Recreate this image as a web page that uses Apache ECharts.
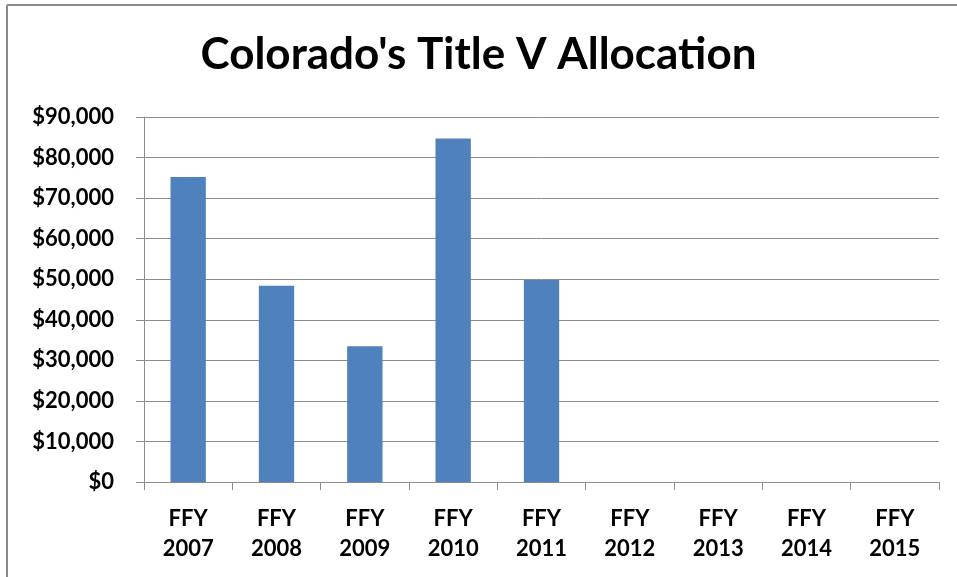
<!DOCTYPE html>
<html>
<head>
<meta charset="utf-8">
<title>Colorado's Title V Allocation</title>
<script src="https://cdn.jsdelivr.net/npm/echarts@6/dist/echarts.min.js"></script>
<style>
    html, body { margin: 0; padding: 0; background: #fff; }
    #chartsdiv { width: 957px; height: 577px; }
</style>
</head>
<body>
<div id="chartsdiv"></div>
<script>
// 数据
var years = ['FFY\n2007', 'FFY\n2008', 'FFY\n2009', 'FFY\n2010', 'FFY\n2011',
             'FFY\n2012', 'FFY\n2013', 'FFY\n2014', 'FFY\n2015'];
var allocation = [75200, 48400, 33500, 84700, 49800, null, null, null, null];
var yTicks = [0, 10000, 20000, 30000, 40000, 50000, 60000, 70000, 80000, 90000];

var fontName = 'Lato, "Open Sans", sans-serif';

function money(v) {
    return '$' + v.toString().replace(/\B(?=(\d{3})+(?!\d))/g, ',');
}

var myChart = echarts.init(document.getElementById('chartsdiv'));
var option = {
    backgroundColor: '#fff',
    animation: false,
    title: {
        text: "Colorado's Title V Allocation",
        left: 'center',
        top: 28,
        textStyle: {
            fontFamily: fontName,
            fontSize: 44,
            fontWeight: 'bold',
            color: '#000'
        }
    },
    graphic: [
        { type: 'line', shape: { x1: 7, y1: 5, x2: 957, y2: 5 }, style: { stroke: '#8a8a8a', lineWidth: 2 } },
        { type: 'line', shape: { x1: 7, y1: 5, x2: 7, y2: 577 }, style: { stroke: '#8a8a8a', lineWidth: 2 } }
    ],
    grid: {
        left: 144,
        right: 18,
        top: 117,
        bottom: 95
    },
    xAxis: {
        type: 'category',
        data: years,
        axisLine: { lineStyle: { color: '#8c8c8c', width: 1 } },
        axisTick: { show: true, length: 8, alignWithLabel: false, lineStyle: { color: '#8c8c8c' } },
        axisLabel: {
            margin: 22,
            interval: 0,
            fontFamily: fontName,
            fontSize: 22,
            fontWeight: 'bold',
            color: '#000',
            lineHeight: 30
        }
    },
    yAxis: {
        type: 'value',
        min: yTicks[0],
        max: yTicks[yTicks.length - 1],
        interval: 10000,
        axisLine: { show: true, lineStyle: { color: '#8c8c8c', width: 1 } },
        axisTick: { show: true, length: 8, lineStyle: { color: '#8c8c8c' } },
        splitLine: { show: true, lineStyle: { color: '#8c8c8c', width: 1 } },
        axisLabel: {
            margin: 30,
            fontFamily: fontName,
            fontSize: 22,
            fontWeight: 'bold',
            color: '#000',
            formatter: money
        }
    },
    series: [
        {
            name: 'Allocation',
            type: 'bar',
            data: allocation,
            barWidth: '40%',
            itemStyle: { color: '#4f81bd' }
        }
    ]
};
myChart.setOption(option);
</script>
</body>
</html>
